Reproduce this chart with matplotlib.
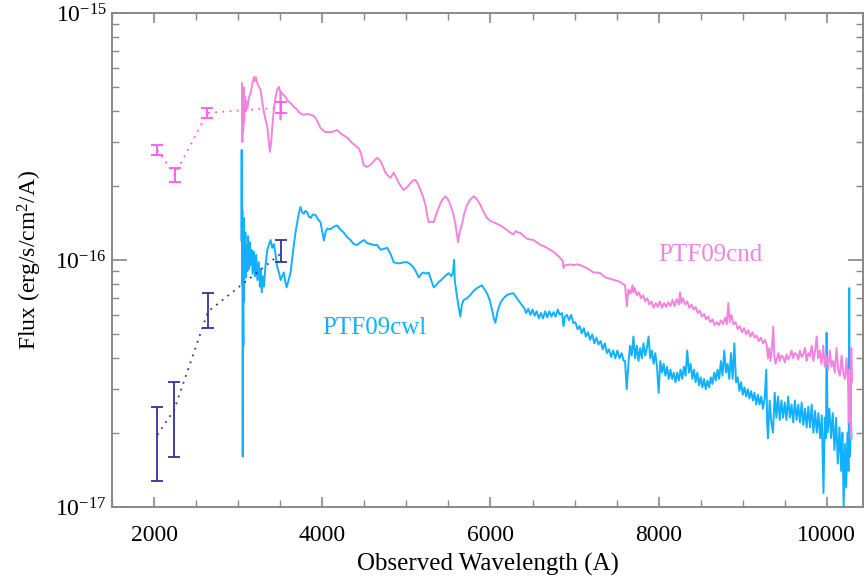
import numpy as np
import matplotlib
matplotlib.use("Agg")
import matplotlib.pyplot as plt
from matplotlib.ticker import FixedLocator, LogLocator, MultipleLocator, NullFormatter

plt.rcParams['font.family'] = ['Liberation Serif', 'DejaVu Serif']
plt.rcParams['mathtext.fontset'] = 'custom'
plt.rcParams['mathtext.rm'] = 'Liberation Serif'
plt.rcParams['mathtext.it'] = 'Liberation Serif:italic'

# flux values are in units of 1e-17 erg/s/cm2/A
scale = 1e-17

# Swift UV photometry (wavelength, flux, lower, upper)
cnd_uv_wave = [2040, 2246, 2634, 3505]
cnd_uv_flux = [27.9, 22.1, 39.4, 41.4]
cnd_uv_lo = [26.6, 20.7, 37.5, 39.3]
cnd_uv_hi = [29.2, 23.5, 41.1, 43.7]

cwl_uv_wave = [2040, 2238, 2641, 3505]
cwl_uv_flux = [1.96, 2.47, 6.18, 10.6]
cwl_uv_lo = [1.27, 1.60, 5.29, 9.84]
cwl_uv_hi = [2.55, 3.20, 7.33, 12.05]

# optical spectra (wavelength, flux)
cnd_spec = [
    (3045, 52), (3050, 30), (3055, 48), (3060, 33), (3066, 50), (3072, 36), (3080, 46),
    (3090, 40), (3100, 44), (3109, 41), (3125, 45), (3148, 47.5), (3170, 52), (3188, 55),
    (3200, 53), (3210, 55), (3228, 52), (3250, 50), (3267, 48.8), (3285, 44), (3306, 39.7),
    (3325, 37), (3347, 34.6), (3365, 30), (3378, 27.4), (3392, 30), (3406, 34.6), (3425, 41),
    (3445, 45.7), (3465, 49), (3484, 50.2), (3500, 48), (3505, 37), (3510, 48), (3525, 47),
    (3544, 46.6), (3575, 45), (3603, 43.6), (3630, 43), (3663, 41.6), (3690, 41), (3722, 39.7),
    (3750, 39), (3781, 38.7), (3820, 39), (3861, 38.7), (3890, 38.5), (3920, 37.6), (3950, 36),
    (3980, 34.2), (4010, 33.5), (4039, 32.9), (4070, 33), (4098, 32.9), (4140, 33.2),
    (4178, 33.6), (4220, 32.5), (4256, 31.9), (4290, 31.4), (4316, 30.9), (4345, 30),
    (4375, 29.4), (4405, 28.8), (4435, 28.3), (4460, 27), (4494, 24.2), (4534, 23.8),
    (4565, 24.2), (4594, 24.7), (4625, 25.4), (4653, 25.9), (4692, 25.2), (4720, 24),
    (4752, 22.6), (4780, 22), (4811, 21.5), (4850, 22.6), (4880, 21.5), (4910, 20.5),
    (4940, 19.8), (4969, 19.2), (5009, 19.7), (5049, 20.5), (5080, 21), (5108, 21.1),
    (5140, 20.3), (5167, 19.2), (5200, 18), (5227, 16.7), (5250, 15), (5266, 14.2),
    (5300, 14.3), (5325, 14.2), (5355, 15.3), (5385, 16.3), (5425, 17.5), (5464, 18.1),
    (5495, 17.6), (5524, 16.7), (5555, 15.5), (5583, 14.0), (5600, 12.8), (5615, 11.8),
    (5630, 12.8), (5663, 14.0), (5690, 15.5), (5722, 16.7), (5760, 17.6), (5800, 18.1),
    (5840, 17.6), (5880, 16.7), (5920, 15.6), (5959, 14.8), (6000, 14.4), (6038, 14.2),
    (6080, 14.0), (6117, 13.8), (6160, 13.5), (6197, 13.2), (6235, 12.9), (6275, 12.7),
    (6300, 13.1), (6330, 12.9), (6355, 12.9), (6395, 12.5), (6434, 12.2), (6475, 12.1),
    (6513, 12.05), (6550, 11.8), (6592, 11.5), (6630, 11.4), (6672, 11.2), (6710, 11.0),
    (6750, 10.8), (6790, 10.5), (6830, 10.2), (6860, 9.9), (6869, 9.27), (6880, 9.5),
    (6910, 9.54), (6950, 9.6), (6988, 9.54), (7030, 9.6), (7067, 9.54), (7110, 9.4),
    (7147, 9.27), (7185, 9.1), (7225, 8.9), (7265, 8.9), (7305, 8.85), (7345, 8.6),
    (7385, 8.45), (7425, 8.4), (7463, 8.3), (7500, 8.25), (7543, 8.15), (7575, 8.0),
    (7600, 7.9), (7622, 6.5), (7640, 7.6), (7665, 7.3), (7690, 7.9), (7700, 7.4),
    (7715, 7.7), (7740, 7.2), (7765, 7.4), (7790, 7.0), (7815, 7.2), (7840, 6.8),
    (7865, 7.0), (7890, 6.6), (7915, 6.8), (7940, 6.4), (7965, 6.7), (7990, 6.45),
    (8015, 6.8), (8040, 6.4), (8065, 6.7), (8090, 6.45), (8115, 6.75), (8140, 6.5),
    (8165, 6.9), (8190, 6.5), (8215, 6.95), (8240, 6.6), (8255, 7.4), (8270, 6.7),
    (8290, 7.0), (8315, 6.6), (8340, 6.8), (8365, 6.4), (8390, 6.6), (8415, 6.3),
    (8440, 6.45), (8465, 6.1), (8490, 6.25), (8515, 5.9), (8540, 6.05), (8565, 5.75),
    (8590, 5.9), (8615, 5.6), (8640, 5.75), (8665, 5.45), (8690, 5.6), (8715, 5.45),
    (8740, 5.7), (8765, 5.5), (8790, 5.85), (8810, 5.5), (8829, 6.7), (8845, 5.6),
    (8865, 6.0), (8890, 5.5), (8915, 5.6), (8940, 5.25), (8965, 5.4), (8990, 5.1),
    (9015, 5.3), (9040, 5.0), (9065, 5.2), (9090, 4.9), (9115, 5.1), (9140, 4.85),
    (9165, 4.95), (9190, 4.7), (9215, 4.85), (9240, 4.6), (9265, 4.75),
    (9285, 4.5), (9300, 4.0), (9315, 4.4),
    (9330, 3.9), (9344, 4.3), (9363, 5.36), (9375, 4.1), (9390, 3.8), (9403, 3.94),
    (9425, 4.2), (9440, 3.9), (9460, 4.1), (9482, 4.04), (9500, 3.85), (9520, 4.15),
    (9540, 3.95), (9561, 4.08), (9580, 4.3), (9600, 4.0), (9620, 4.2), (9641, 4.15),
    (9660, 3.95), (9680, 4.3), (9700, 4.05), (9719, 4.15), (9740, 4.4), (9760, 3.9),
    (9780, 4.2), (9799, 4.08), (9820, 4.5), (9840, 3.9), (9860, 4.3), (9879, 4.9),
    (9895, 4.0), (9915, 4.3), (9935, 3.8), (9957, 4.5), (9975, 3.7), (9995, 4.1),
    (10015, 3.6), (10036, 4.3), (10055, 3.7), (10075, 3.9), (10095, 3.5), (10116, 4.4),
    (10135, 3.6), (10155, 3.4), (10175, 4.1), (10194, 3.5), (10215, 3.3), (10235, 4.0),
    (10254, 3.1), (10262, 2.2), (10270, 3.6), (10280, 2.6), (10285, 1.9), (10290, 4.4),
    (10300, 3.2),
]

cwl_spec = [
    (3038, 12), (3042, 27.9), (3046, 8), (3050, 16), (3054, 1.6), (3058, 6), (3062, 4.5),
    (3066, 14.8), (3070, 6.8), (3075, 13), (3080, 9.0), (3086, 12.9), (3092, 8.5),
    (3100, 11.5), (3109, 9.0), (3118, 12.5), (3128, 9.2), (3138, 11.8), (3148, 9.5),
    (3160, 11.0), (3172, 8.8), (3188, 10.8), (3200, 8.6), (3215, 10.5), (3228, 8.3),
    (3245, 9.8), (3258, 7.8), (3267, 9.2), (3280, 7.4), (3295, 8.6), (3306, 7.8),
    (3325, 9.5), (3347, 11.0), (3365, 11.5), (3386, 12.05), (3405, 11.2), (3425, 11.6),
    (3445, 10.5), (3466, 9.3), (3485, 8.9), (3505, 8.3), (3525, 8.6), (3544, 8.9),
    (3560, 8.2), (3576, 7.75), (3600, 8.3), (3623, 8.9), (3643, 10.2), (3663, 11.6),
    (3683, 13), (3703, 14.2), (3722, 15.5), (3742, 16.4), (3760, 15.6), (3781, 15.4),
    (3800, 15.8), (3822, 15.6), (3840, 15.0), (3861, 14.8), (3890, 15.3), (3920, 15.2),
    (3950, 14.6), (3980, 14.2), (4000, 13.0), (4019, 12.0), (4040, 13.0), (4059, 13.4),
    (4090, 13.3), (4119, 13.5), (4150, 13.7), (4178, 13.8), (4215, 13.3), (4256, 12.9),
    (4295, 12.4), (4336, 12.05), (4375, 11.6), (4416, 11.5), (4455, 11.8), (4494, 12.05),
    (4535, 11.7), (4574, 11.6), (4615, 11.5), (4653, 11.5), (4692, 11.0), (4731, 11.1),
    (4772, 11.2), (4811, 10.6), (4850, 9.8), (4890, 9.7), (4930, 9.7), (4970, 9.8),
    (5009, 9.8), (5050, 9.6), (5088, 9.3), (5120, 8.9), (5147, 8.5), (5180, 8.8),
    (5207, 8.9), (5240, 8.8), (5266, 8.9), (5295, 8.3), (5325, 7.75), (5355, 7.9),
    (5385, 8.15), (5415, 8.3), (5444, 8.5), (5475, 8.7), (5503, 8.85), (5535, 8.6),
    (5555, 8.9), (5568, 10.0), (5575, 8.3), (5590, 7.6), (5603, 7.07), (5620, 6.5),
    (5642, 5.9), (5660, 6.6), (5682, 6.89), (5720, 7.0), (5761, 7.22), (5800, 7.5),
    (5841, 7.7), (5870, 7.8), (5900, 7.9), (5930, 7.6), (5959, 7.34), (5990, 6.9),
    (6019, 6.28), (6040, 5.8), (6058, 5.57), (6085, 6.2), (6117, 6.7), (6155, 7.0),
    (6197, 7.22), (6235, 7.3), (6275, 7.34), (6315, 7.0), (6355, 6.7),
    (6400, 6.4), (6425, 6.1), (6450, 6.35), (6475, 6.0), (6500, 6.3), (6525, 5.95),
    (6550, 6.2), (6575, 5.8), (6600, 6.1), (6625, 5.8), (6650, 6.2), (6675, 5.85),
    (6700, 6.2), (6725, 5.9), (6750, 6.15), (6775, 5.9), (6800, 6.3), (6825, 6.0),
    (6850, 6.1), (6869, 5.4), (6885, 5.9), (6910, 6.0), (6935, 5.7), (6960, 6.0),
    (6985, 5.55), (7010, 5.6), (7035, 5.25), (7060, 5.4), (7085, 5.05), (7110, 5.3),
    (7135, 4.9), (7160, 5.1), (7185, 4.75), (7210, 5.0), (7235, 4.6), (7260, 4.85),
    (7285, 4.55), (7310, 4.7), (7335, 4.35), (7360, 4.6), (7385, 4.2), (7410, 4.35),
    (7435, 4.05), (7460, 4.3), (7485, 4.0), (7510, 4.3), (7535, 4.0), (7560, 4.2),
    (7585, 3.9), (7600, 3.9), (7620, 3.0), (7640, 3.8), (7660, 4.5), (7680, 4.1),
    (7700, 4.9), (7720, 4.0), (7740, 4.5), (7760, 3.9), (7780, 4.4), (7800, 4.0),
    (7820, 4.6), (7840, 4.1), (7860, 4.4), (7880, 4.9), (7900, 4.0), (7920, 4.3),
    (7940, 3.8), (7960, 4.2), (7980, 3.7), (8000, 2.9), (8020, 3.9), (8040, 3.5),
    (8060, 3.8), (8080, 3.4), (8100, 3.7), (8120, 3.3), (8140, 3.6), (8160, 3.3),
    (8180, 3.5), (8200, 3.2), (8220, 3.5), (8240, 3.25), (8260, 3.6), (8280, 3.3),
    (8300, 3.7), (8320, 3.4), (8340, 4.3), (8360, 3.5), (8380, 3.8), (8400, 3.3),
    (8420, 3.6), (8440, 3.2), (8460, 3.5), (8480, 3.1), (8500, 3.35), (8520, 3.05),
    (8540, 3.3), (8560, 3.0), (8580, 3.25), (8600, 3.05), (8620, 3.35), (8640, 3.15),
    (8660, 3.5), (8680, 3.25), (8700, 3.6), (8720, 3.3), (8740, 3.9), (8760, 3.4),
    (8780, 4.3), (8800, 3.5), (8820, 3.8), (8840, 3.3), (8860, 4.2), (8880, 3.3),
    (8900, 4.6), (8920, 3.2), (8940, 3.35), (8960, 2.95), (8980, 3.2), (9000, 2.85),
    (9020, 3.05), (9040, 2.8), (9060, 3.0), (9080, 2.75), (9100, 2.95), (9120, 2.7),
    (9140, 2.9), (9160, 2.6), (9180, 2.85), (9200, 2.6), (9220, 2.8), (9240, 2.5),
    (9260, 2.75), (9280, 3.6), (9290, 2.2), (9300, 1.9), (9320, 2.7), (9340, 2.2),
    (9360, 2.0), (9380, 2.9), (9400, 2.3), (9420, 2.8), (9440, 2.25), (9460, 2.7),
    (9480, 2.3), (9500, 2.65), (9520, 2.25), (9540, 2.8), (9560, 2.3), (9580, 2.6),
    (9600, 2.2), (9620, 2.7), (9640, 2.25), (9660, 2.6), (9680, 2.2), (9700, 2.65),
    (9720, 2.15), (9740, 2.5), (9760, 2.1), (9780, 2.55), (9800, 2.1), (9820, 2.6),
    (9840, 2.0), (9860, 2.45), (9880, 2.0), (9900, 2.4), (9920, 1.9), (9940, 2.35),
    (9960, 1.14), (9975, 2.3), (9990, 1.9), (9997, 5.07), (10010, 2.0), (10030, 2.5),
    (10050, 1.9), (10070, 2.4), (10090, 1.7), (10110, 2.3), (10130, 1.5), (10150, 2.1),
    (10170, 1.4), (10185, 2.0), (10200, 1.0), (10215, 1.8), (10230, 1.2), (10245, 2.0),
    (10258, 1.4), (10266, 7.7), (10275, 1.6), (10285, 2.2), (10294, 1.9),
]

pink = '#f283df'
magenta = '#ff55ff'
sky = '#12b0ff'
navy = '#33339a'

fig = plt.figure(figsize=(8.65, 5.78), dpi=100)
ax = fig.add_axes([0.1295, 0.1228, 0.8682, 0.8547])

cwl = np.array(cwl_spec)
cnd = np.array(cnd_spec)
ax.plot(cwl[:, 0], cwl[:, 1] * scale, color=sky, lw=1.4)
ax.plot(cnd[:, 0], cnd[:, 1] * scale, color=pink, lw=1.4)

for w, f, lo, hi, c in [(cnd_uv_wave, cnd_uv_flux, cnd_uv_lo, cnd_uv_hi, magenta),
                        (cwl_uv_wave, cwl_uv_flux, cwl_uv_lo, cwl_uv_hi, navy)]:
    f = np.array(f) * scale
    err = [f - np.array(lo) * scale, np.array(hi) * scale - f]
    ax.plot(w, f, color=c, lw=1.3, linestyle=(0, (1, 3)))
    ax.errorbar(w, f, yerr=err, fmt='none', ecolor=c, elinewidth=1.3,
                capsize=4, capthick=1.3)

ax.text(8000, 1.05e-16, 'PTF09cnd', color=pink, fontsize=18, va='center')
ax.text(4000, 5.3e-17, 'PTF09cwl', color=sky, fontsize=18, va='center')

ax.set_yscale('log')
ax.set_xlim(1500, 10430)
ax.set_ylim(1e-17, 1e-15)
ax.xaxis.set_major_locator(MultipleLocator(2000))
ax.xaxis.set_minor_locator(MultipleLocator(500))
ax.yaxis.set_major_locator(FixedLocator([1e-17, 1e-16, 1e-15]))
ax.yaxis.set_minor_locator(LogLocator(base=10, subs=np.arange(2, 10)))
ax.yaxis.set_minor_formatter(NullFormatter())

ax.tick_params(which='both', direction='in', top=True, right=True,
               color='#888888', labelsize=17)
ax.tick_params(axis='x', which='major', length=7, width=1.2, pad=13)
ax.tick_params(axis='x', which='minor', length=5, width=1.0)
ax.tick_params(axis='y', which='major', length=11, width=1.2, pad=4)
ax.tick_params(axis='y', which='minor', length=5, width=1.0)
for s in ax.spines.values():
    s.set_color('#888888')
    s.set_linewidth(1.4)

ax.set_xlabel('Observed Wavelength (A)', fontsize=18, labelpad=5)
ax.set_ylabel('Flux (erg/s/cm$^2$/A)', fontsize=17, labelpad=8)

plt.savefig('out.png', dpi=100)
